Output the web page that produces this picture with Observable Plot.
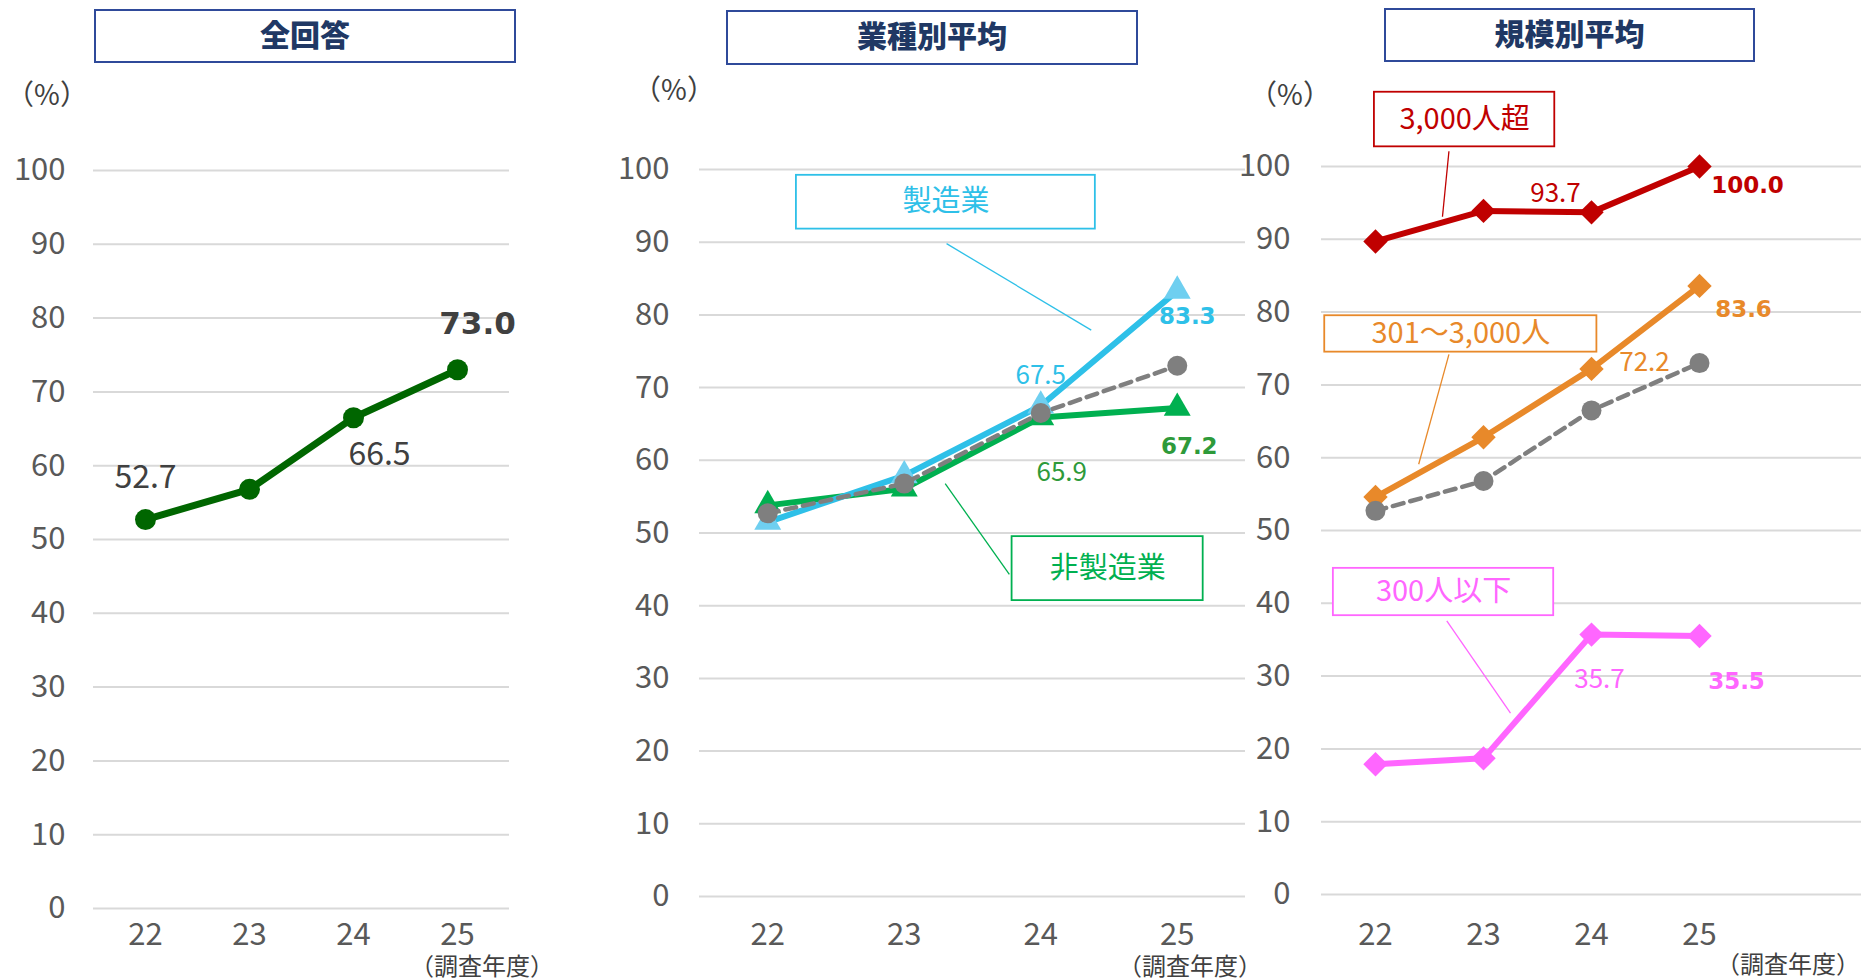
<!DOCTYPE html>
<html>
<head>
<meta charset="utf-8">
<script src="https://cdn.jsdelivr.net/npm/d3@7"></script>
<script src="https://cdn.jsdelivr.net/npm/@observablehq/plot@0.6"></script>
<style>
  html, body { margin: 0; padding: 0; background: #fff; }
  body { width: 1864px; height: 979px; overflow: hidden; font-family: "Noto Sans CJK JP", "Noto Sans", sans-serif; }
  #wrap { position: relative; width: 1864px; height: 979px; }
  .panel { position: absolute; top: 0; }
  .panel svg { overflow: visible; }
  .title { position: absolute; box-sizing: border-box; border: 2px solid #2f4a9a; display: flex; align-items: center; justify-content: center; font-weight: 900; font-size: 30px; color: #203864; padding-bottom: 7px; }
  .unit { position: absolute; font-size: 28px; color: #404040; transform: translate(-50%, -50%); white-space: nowrap; }
  .year { position: absolute; font-size: 24px; line-height: 1; color: #404040; transform: translate(-50%, -50%); white-space: nowrap; }
</style>
</head>
<body>
<div id="wrap"></div>
<script>
// ---------------- data ----------------
const years = [22, 23, 24, 25];
const yTicks = [0, 10, 20, 30, 40, 50, 60, 70, 80, 90, 100];
const panelTitles = ["全回答", "業種別平均", "規模別平均"];
const unitLabel = "（%）";
const xAxisLabel = "（調査年度）";

// 全回答
const allResp = [52.7, 56.8, 66.5, 73.0];
// 業種別平均
const mfgName = "製造業";
const mfg = [51.5, 57.9, 67.5, 83.3];
const nonMfgName = "非製造業";
const nonMfg = [53.8, 56.1, 65.9, 67.2];
// 規模別平均
const largeName = "3,000人超";
const large = [89.7, 93.9, 93.7, 100.0];
const midName = "301～3,000人";
const mid = [54.6, 62.8, 72.2, 83.6];
const smallName = "300人以下";
const small = [17.9, 18.7, 35.7, 35.5];

// ---------------- helpers ----------------
const rows = (vals) => years.map((yr, i) => ({ year: yr, value: vals[i] }));
const fmt = d3.format(".1f");
const tickFont = "Noto Sans CJK JP";
const boldFont = "DejaVu Sans";

function valueLabel(vals, i, { dx, dy, fill, bold, size }) {
  return Plot.text([{ year: years[i], value: vals[i] }], {
    x: "year", y: "value", text: d => fmt(d.value),
    dx, dy, fill,
    fontSize: size,
    fontWeight: bold ? "bold" : "normal",
    fontFamily: bold ? boldFont : tickFont
  });
}

function callout({ x1, x2, y1, y2, lx1, ly1, lx2, ly2, text, color }) {
  return [
    Plot.link([0], { x1: () => lx1, y1: () => ly1, x2: () => lx2, y2: () => ly2, stroke: color, strokeWidth: 1.3 }),
    Plot.rect([0], { x1: () => x1, x2: () => x2, y1: () => y1, y2: () => y2, fill: "white", stroke: color, strokeWidth: 1.8 }),
    Plot.text([0], { x: () => (x1 + x2) / 2, y: () => (y1 + y2) / 2, text: () => text, fill: color, fontSize: 29, fontFamily: tickFont, lineAnchor: "middle" })
  ];
}

function makePanel({ width, marginLeft, marginRight, marginTop, marginBottom, xDomain, yPad, xPad, marks }) {
  return Plot.plot({
    width, height: 979,
    marginLeft, marginRight, marginTop, marginBottom,
    x: { type: "linear", domain: xDomain },
    y: { domain: [0, 100] },
    style: { background: "transparent", fontFamily: tickFont, color: "#595959", overflow: "visible" },
    marks: [
      Plot.gridY(yTicks, { stroke: "#d9d9d9", strokeOpacity: 1, strokeWidth: 2 }),
      Plot.axisY(yTicks, { tickSize: 0, tickPadding: yPad, fontSize: 31, color: "#595959", label: null }),
      Plot.axisX(years, { tickSize: 0, tickPadding: xPad, fontSize: 31, color: "#595959", label: null, tickFormat: d => String(d) }),
      ...marks
    ]
  });
}

const wrap = document.getElementById("wrap");
function place(node, left) {
  const d = document.createElement("div");
  d.className = "panel";
  d.style.left = left + "px";
  d.appendChild(node);
  wrap.appendChild(d);
}
function addDiv(cls, text, style) {
  const d = document.createElement("div");
  d.className = cls;
  d.textContent = text;
  Object.assign(d.style, style);
  wrap.appendChild(d);
}

// ---------------- panel 1 : 全回答 ----------------
const green1 = "#006600";
const p1 = makePanel({
  width: 560, marginLeft: 93, marginRight: 51, marginTop: 170, marginBottom: 71,
  xDomain: [21.5, 25.5], yPad: 28, xPad: 14,
  marks: [
    Plot.line(rows(allResp), { x: "year", y: "value", stroke: green1, strokeWidth: 7 }),
    Plot.dot(rows(allResp), { x: "year", y: "value", r: 10.5, fill: green1, symbol: "circle" }),
    valueLabel(allResp, 0, { dx: 0, dy: -42, fill: "#404040", bold: false, size: 32 }),
    valueLabel(allResp, 2, { dx: 26, dy: 37, fill: "#404040", bold: false, size: 32 }),
    valueLabel(allResp, 3, { dx: 20, dy: -46, fill: "#404040", bold: true, size: 31 })
  ]
});
place(p1, 0);

// ---------------- panel 2 : 業種別平均 ----------------
const blue = "#2ec0e8", blueMark = "#6fcff0", green2 = "#00b050", gray = "#7f7f7f";
const p2 = makePanel({
  width: 700, marginLeft: 139, marginRight: 15, marginTop: 169, marginBottom: 83,
  xDomain: [21.5, 25.5], yPad: 30, xPad: 26,
  marks: [
    Plot.line(rows(nonMfg), { x: "year", y: "value", stroke: green2, strokeWidth: 6 }),
    Plot.line(rows(mfg), { x: "year", y: "value", stroke: blue, strokeWidth: 6 }),
    Plot.dot(rows(nonMfg), { x: "year", y: "value", r: 10, fill: green2, symbol: "triangle" }),
    Plot.dot(rows(mfg), { x: "year", y: "value", r: 10, fill: blueMark, symbol: "triangle" }),
    Plot.line(rows(allResp), { x: "year", y: "value", stroke: gray, strokeWidth: 4.5, strokeDasharray: "11,7" }),
    Plot.dot(rows(allResp), { x: "year", y: "value", r: 10, fill: gray, symbol: "circle" }),
    valueLabel(mfg, 2, { dx: 0, dy: -30, fill: blue, bold: false, size: 26 }),
    valueLabel(mfg, 3, { dx: 10, dy: 26, fill: blue, bold: true, size: 23 }),
    valueLabel(nonMfg, 2, { dx: 21, dy: 55, fill: "#2e9a3a", bold: false, size: 26 }),
    valueLabel(nonMfg, 3, { dx: 12, dy: 39, fill: "#2e9a3a", bold: true, size: 23 }),
    ...callout({ x1: 22.21, x2: 24.40, y1: 99.2, y2: 91.8, lx1: 23.31, ly1: 89.8, lx2: 24.37, ly2: 77.9, text: mfgName, color: blue }),
    ...callout({ x1: 23.79, x2: 25.19, y1: 49.5, y2: 40.7, lx1: 23.30, ly1: 56.8, lx2: 23.77, ly2: 44.3, text: nonMfgName, color: green2 })
  ]
});
place(p2, 560);

// ---------------- panel 3 : 規模別平均 ----------------
const red = "#c00000", orange = "#e8892a", magenta = "#ff66ff";
const p3 = makePanel({
  width: 704, marginLeft: 161, marginRight: 3, marginTop: 166, marginBottom: 85,
  xDomain: [21.5, 26.5], yPad: 31, xPad: 28,
  marks: [
    Plot.line(rows(large), { x: "year", y: "value", stroke: red, strokeWidth: 6 }),
    Plot.dot(rows(large), { x: "year", y: "value", r: 11, fill: red, symbol: "diamond2" }),
    Plot.line(rows(mid), { x: "year", y: "value", stroke: orange, strokeWidth: 6 }),
    Plot.dot(rows(mid), { x: "year", y: "value", r: 11, fill: orange, symbol: "diamond2" }),
    Plot.line(rows(small), { x: "year", y: "value", stroke: magenta, strokeWidth: 6 }),
    Plot.dot(rows(small), { x: "year", y: "value", r: 11, fill: magenta, symbol: "diamond2" }),
    Plot.line(rows(allResp), { x: "year", y: "value", stroke: gray, strokeWidth: 4.5, strokeDasharray: "11,7" }),
    Plot.dot(rows(allResp), { x: "year", y: "value", r: 10, fill: gray, symbol: "circle" }),
    valueLabel(large, 2, { dx: -36, dy: -19, fill: red, bold: false, size: 26 }),
    valueLabel(large, 3, { dx: 48, dy: 19, fill: red, bold: true, size: 23 }),
    valueLabel(mid, 2, { dx: 53, dy: -6, fill: orange, bold: false, size: 26 }),
    valueLabel(mid, 3, { dx: 44, dy: 24, fill: orange, bold: true, size: 23 }),
    valueLabel(small, 2, { dx: 8, dy: 45, fill: magenta, bold: false, size: 26 }),
    valueLabel(small, 3, { dx: 37, dy: 46, fill: magenta, bold: true, size: 23 }),
    ...callout({ x1: 21.99, x2: 23.66, y1: 110.2, y2: 102.7, lx1: 22.68, ly1: 102.1, lx2: 22.62, ly2: 93.1, text: largeName, color: red }),
    ...callout({ x1: 21.53, x2: 24.05, y1: 79.5, y2: 74.5, lx1: 22.68, ly1: 74.2, lx2: 22.40, ly2: 59.1, text: midName, color: orange }),
    ...callout({ x1: 21.61, x2: 23.65, y1: 44.8, y2: 38.3, lx1: 22.66, ly1: 37.6, lx2: 23.25, ly2: 24.9, text: smallName, color: magenta })
  ]
});
place(p3, 1160);

// ---------------- titles & axis captions ----------------
addDiv("title", panelTitles[0], { left: "94px", top: "9px", width: "422px", height: "54px" });
addDiv("title", panelTitles[1], { left: "726px", top: "10px", width: "412px", height: "55px" });
addDiv("title", panelTitles[2], { left: "1384px", top: "8px", width: "371px", height: "54px" });

addDiv("unit", unitLabel, { left: "47px", top: "93px" });
addDiv("unit", unitLabel, { left: "674px", top: "88px" });
addDiv("unit", unitLabel, { left: "1290px", top: "93px" });

addDiv("year", xAxisLabel, { left: "482px", top: "965px" });
addDiv("year", xAxisLabel, { left: "1190px", top: "965px" });
addDiv("year", xAxisLabel, { left: "1788px", top: "963px" });
</script>
</body>
</html>
